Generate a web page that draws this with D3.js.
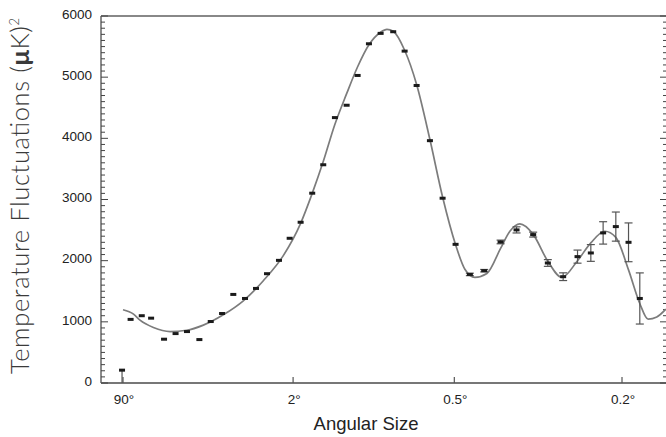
<!doctype html>
<html lang="en">
<head>
<meta charset="utf-8">
<title>Angular Power Spectrum</title>
<style>
    body { margin: 0; background: #fff; }
    svg { display: block; }
    .tick-label { font-family: "Liberation Sans", Arial, sans-serif; font-size: 13.5px; fill: #222; }
    .axis-title { font-family: "Liberation Sans", Arial, sans-serif; font-size: 18.5px; fill: #222; }
    .y-title { font-family: Lato, "Open Sans", sans-serif; font-weight: 300; font-size: 25.5px; fill: #3a3a3a; }
</style>
</head>
<body>
<script src="https://d3js.org/d3.v7.min.js"></script>
<script>
    // measured band powers (multipole l, power in uK^2)
    const multipole = [1.9, 2.9, 4.6, 6.4, 9.5, 12.9, 16.9, 22.0, 27.4, 33.5,
        40.3, 48.2, 56.4, 65.4, 76.1, 86.5, 98.0, 111.1, 124.5, 139.7,
        156.0, 172.3, 190.1, 209.6, 231.9, 253.3, 277.0, 304.8, 332.8, 363.0,
        398.1, 435.2, 480.2, 526.6, 577.6, 625.0, 676.9, 727.9, 777.1, 824.3,
        874.8, 927.1, 975.1];
    const power = [210, 1040, 1100, 1060, 716, 808, 841, 710, 1005, 1136,
        1448, 1382, 1546, 1787, 2005, 2366, 2628, 3103, 3568, 4339,
        4541, 5028, 5546, 5716, 5743, 5426, 4864, 3962, 3021, 2267,
        1775, 1836, 2306, 2503, 2426, 1962, 1738, 2066, 2126, 2454,
        2557, 2300, 1382];
    const errorLow = [210, 0, 0, 0, 0, 0, 0, 0, 0, 0,
        0, 0, 0, 0, 0, 0, 0, 0, 0, 0,
        0, 0, 0, 0, 0, 0, 0, 0, 0, 0,
        20, 20, 30, 50, 40, 55, 63, 107, 137, 183,
        238, 317, 418];
    const errorHigh = [0, 0, 0, 0, 0, 0, 0, 0, 0, 0,
        0, 0, 0, 0, 0, 0, 0, 0, 0, 0,
        0, 0, 0, 0, 0, 0, 0, 0, 0, 0,
        20, 20, 30, 50, 40, 55, 63, 107, 137, 183,
        238, 317, 418];

    // model curve
    const modelL = [2.0, 3.3, 4.3, 6.9, 11.2, 16.8, 23.8, 34.2, 47.0, 62.3,
        80.2, 98.0, 111.1, 124.5, 139.7, 156.0, 172.3, 190.1, 209.6, 220.6,
        231.9, 253.3, 277.0, 304.8, 332.8, 363.0, 385.6, 410.9, 442.5, 480.2,
        506.9, 536.5, 577.6, 625.0, 672.4, 727.9, 777.1, 830.9, 874.8, 927.1,
        975.1, 1011.4, 1050.2, 1091.3];
    const modelPower = [1197, 1126, 1027, 907, 841, 862, 946, 1115, 1344, 1672,
        2082, 2610, 3100, 3620, 4230, 4730, 5170, 5530, 5735, 5782,
        5750, 5440, 4880, 3980, 3040, 2260, 1860, 1727, 1790, 2200,
        2480, 2601, 2430, 1990, 1727, 2000, 2290, 2481, 2380, 1850,
        1300, 1044, 1080, 1208];

    // x tick labels (angular size) and the multipole they sit at
    const angleLabels = ['90\u00B0', '2\u00B0', '0.5\u00B0', '0.2\u00B0'];
    const angleMultipole = [2, 90, 360, 900];
    const yTicks = [0, 1000, 2000, 3000, 4000, 5000, 6000];

    const W = 666, H = 437;
    const margin = {left: 101, top: 16, right: -1, bottom: 54};
    const innerW = W - margin.left - margin.right;
    const innerH = H - margin.top - margin.bottom;

    const svg = d3.select('body').append('svg')
        .attr('width', W)
        .attr('height', H);

    const g = svg.append('g')
        .attr('transform', `translate(${margin.left},${margin.top})`);

    const x = d3.scalePow().exponent(0.4)
        .domain([2, 900])
        .range([22, 521]);
    const y = d3.scaleLinear()
        .domain([0, 6000])
        .range([innerH, 0]);

    // frame
    g.append('line').attr('x1', 0).attr('x2', innerW).attr('y1', 0).attr('y2', 0)
        .attr('stroke', '#888').attr('stroke-width', 2);
    g.append('line').attr('x1', 0).attr('x2', innerW).attr('y1', innerH).attr('y2', innerH)
        .attr('stroke', '#777').attr('stroke-width', 2);
    g.append('line').attr('x1', 0).attr('x2', 0).attr('y1', 0).attr('y2', innerH)
        .attr('stroke', '#666').attr('stroke-width', 1.5);
    g.append('line').attr('x1', innerW).attr('x2', innerW).attr('y1', 0).attr('y2', innerH)
        .attr('stroke', '#666').attr('stroke-width', 1.5);

    // minor and major y ticks, both sides, pointing inward
    const minor = d3.range(0, 6001, 100);
    g.append('g').selectAll('line').data(minor).join('line')
        .attr('x1', 0)
        .attr('x2', d => d % 1000 === 0 ? 7 : 4)
        .attr('y1', d => y(d)).attr('y2', d => y(d))
        .attr('stroke', '#444').attr('stroke-width', 1);
    g.append('g').selectAll('line').data(minor).join('line')
        .attr('x1', innerW)
        .attr('x2', d => innerW - (d % 1000 === 0 ? 7 : 4))
        .attr('y1', d => y(d)).attr('y2', d => y(d))
        .attr('stroke', '#444').attr('stroke-width', 1);

    g.append('g').selectAll('text').data(yTicks).join('text')
        .attr('class', 'tick-label')
        .attr('x', -9)
        .attr('y', d => y(d))
        .attr('dy', '0.2em')
        .attr('text-anchor', 'end')
        .text(d => d);

    // x ticks
    g.append('g').selectAll('line').data(angleMultipole).join('line')
        .attr('x1', d => x(d)).attr('x2', d => x(d))
        .attr('y1', innerH).attr('y2', innerH - 6)
        .attr('stroke', '#555').attr('stroke-width', 1.2);
    g.append('g').selectAll('text').data(angleMultipole).join('text')
        .attr('class', 'tick-label')
        .attr('x', d => x(d) + 1)
        .attr('y', innerH + 21)
        .attr('text-anchor', 'middle')
        .text((d, i) => angleLabels[i]);

    // axis titles
    svg.append('text')
        .attr('class', 'axis-title')
        .attr('x', 366)
        .attr('y', 430)
        .attr('text-anchor', 'middle')
        .text('Angular Size');

    const yt = svg.append('text')
        .attr('class', 'y-title')
        .attr('transform', 'translate(29,196) rotate(-90)')
        .attr('text-anchor', 'middle')
        .attr('textLength', 356)
        .attr('lengthAdjust', 'spacing');
    yt.append('tspan').text('Temperature Fluctuations (');
    yt.append('tspan').attr('font-weight', 700).text('\u03BC');
    yt.append('tspan').text('K)');
    yt.append('tspan').attr('font-size', '13px').attr('dy', '-0.75em').text('2');

    // model curve
    const modelData = modelL.map((l, i) => ({l: l, p: modelPower[i]}));
    g.append('path')
        .datum(modelData)
        .attr('fill', 'none')
        .attr('stroke', '#7c7c7c')
        .attr('stroke-width', 1.7)
        .attr('d', d3.line()
            .x(d => x(d.l))
            .y(d => y(d.p))
            .curve(d3.curveMonotoneX));

    // data points with error bars
    const pts = multipole.map((l, i) => ({
        l: l, p: power[i], lo: power[i] - errorLow[i], hi: power[i] + errorHigh[i]
    }));
    const bars = pts.filter(d => d.hi - d.lo > 0);
    g.append('g').selectAll('line').data(bars).join('line')
        .attr('x1', d => x(d.l)).attr('x2', d => x(d.l))
        .attr('y1', d => y(d.lo)).attr('y2', d => y(d.hi))
        .attr('stroke', '#555').attr('stroke-width', 1.2);
    const capped = bars.filter(d => d.hi > d.p);
    g.append('g').selectAll('line').data(capped).join('line')
        .attr('x1', d => x(d.l) - 4).attr('x2', d => x(d.l) + 4)
        .attr('y1', d => y(d.hi)).attr('y2', d => y(d.hi))
        .attr('stroke', '#555').attr('stroke-width', 1.2);
    g.append('g').selectAll('line').data(capped).join('line')
        .attr('x1', d => x(d.l) - 4).attr('x2', d => x(d.l) + 4)
        .attr('y1', d => y(d.lo)).attr('y2', d => y(d.lo))
        .attr('stroke', '#555').attr('stroke-width', 1.2);

    g.append('g').selectAll('rect').data(pts).join('rect')
        .attr('x', d => x(d.l) - 3)
        .attr('y', d => y(d.p) - 1.5)
        .attr('width', 6)
        .attr('height', 3)
        .attr('fill', '#1a1a1a');
</script>
</body>
</html>
